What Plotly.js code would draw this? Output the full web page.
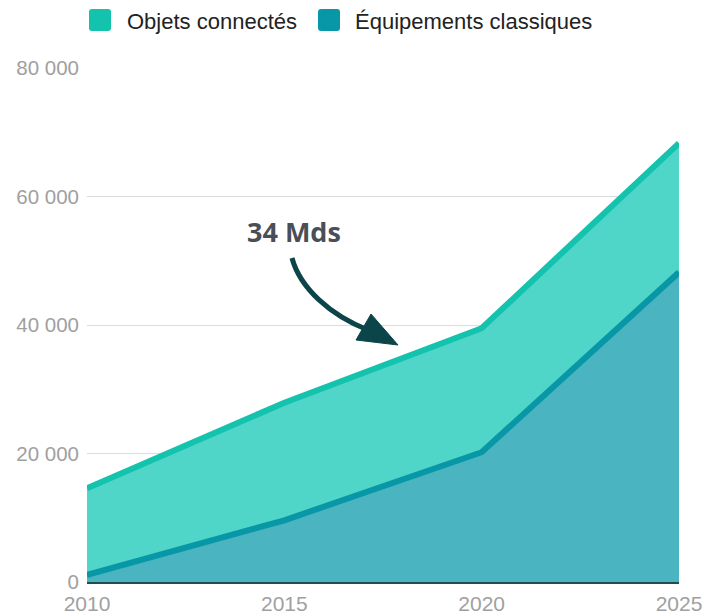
<!DOCTYPE html>
<html>
<head>
<meta charset="utf-8">
<script src="https://cdn.plot.ly/plotly-3.0.1.min.js"></script>
<style>html,body{margin:0;padding:0;background:#fff;}#chart{width:705px;height:616px;}</style>
</head>
<body>
<div id="chart"></div>
<script>
// Data (values in millions of devices)
const years = [2010, 2015, 2020, 2025];
const objetsConnectes = [14600, 27900, 39500, 68300];      // upper line
const equipementsClassiques = [1100, 9600, 20200, 48200];  // lower line
const seriesNames = ['Objets connectés', 'Équipements classiques'];
const yTicks = [0, 20000, 40000, 60000, 80000];
const xTicks = [2010, 2015, 2020, 2025];
const annotationText = '34 Mds';

// Layout geometry (pixels)
const W = 705, H = 616;
const L = 87, R = 679, T = 68, B = 582;
const px = x => (x - L) / (R - L);
const py = y => (B - y) / (B - T);

const cTop = '#13c3ad', cTopFill = '#4fd6c8';
const cBot = '#0897a6', cBotFill = '#4ab4c0';

const traces = [
  {
    x: years, y: equipementsClassiques, name: seriesNames[1],
    type: 'scatter', mode: 'lines', fill: 'tozeroy',
    fillcolor: cBotFill, line: {color: cBot, width: 6}, showlegend: false,
    hoverinfo: 'x+y'
  },
  {
    x: years, y: objetsConnectes, name: seriesNames[0],
    type: 'scatter', mode: 'lines', fill: 'tonexty',
    fillcolor: cTopFill, line: {color: cTop, width: 6}, showlegend: false,
    hoverinfo: 'x+y'
  }
];

const P = (x, y) => px(x) + ',' + py(y);
function roundRect(x0, y0, x1, y1, r) {
  return 'M' + P(x0 + r, y0) + ' L' + P(x1 - r, y0) + ' Q' + P(x1, y0) + ' ' + P(x1, y0 + r) +
    ' L' + P(x1, y1 - r) + ' Q' + P(x1, y1) + ' ' + P(x1 - r, y1) +
    ' L' + P(x0 + r, y1) + ' Q' + P(x0, y1) + ' ' + P(x0, y1 - r) +
    ' L' + P(x0, y0 + r) + ' Q' + P(x0, y0) + ' ' + P(x0 + r, y0) + ' Z';
}

const shapes = [
  {type: 'path', xref: 'paper', yref: 'paper', path: roundRect(89, 9, 111, 31, 3),
   fillcolor: cTop, line: {width: 0}},
  {type: 'path', xref: 'paper', yref: 'paper', path: roundRect(318, 9, 340, 31, 3),
   fillcolor: cBot, line: {width: 0}},
  // curved arrow shaft
  {type: 'path', xref: 'paper', yref: 'paper',
   path: 'M' + P(292, 258) + ' C' + P(300, 288) + ' ' + P(330, 315) + ' ' + P(368, 330),
   line: {color: '#0b4449', width: 5}},
  // arrow head
  {type: 'path', xref: 'paper', yref: 'paper',
   path: 'M' + P(398, 345) + ' L' + P(356, 340) + ' L' + P(371, 314) + ' Z',
   fillcolor: '#0b4449', line: {color: '#0b4449', width: 1}}
];

const annotations = [
  {xref: 'paper', yref: 'paper', x: px(125), y: py(21), xanchor: 'left', yanchor: 'middle',
   text: seriesNames[0], showarrow: false, font: {family: 'Liberation Sans, Arial', size: 22, color: '#222'}},
  {xref: 'paper', yref: 'paper', x: px(353), y: py(21), xanchor: 'left', yanchor: 'middle',
   text: seriesNames[1], showarrow: false, font: {family: 'Liberation Sans, Arial', size: 22, color: '#222'}},
  {xref: 'paper', yref: 'paper', x: px(294), y: py(231), xanchor: 'center', yanchor: 'middle',
   text: '<b>' + annotationText + '</b>', showarrow: false,
   font: {family: 'Open Sans, Lato', size: 27, color: '#4a4f57'}}
];

const layout = {
  width: W, height: H,
  margin: {l: L, r: W - R, t: T, b: H - B, pad: 0},
  paper_bgcolor: '#fff', plot_bgcolor: '#fff',
  separators: ', ',
  showlegend: false,
  xaxis: {
    range: [2010, 2025], tickvals: xTicks, ticktext: xTicks.map(String),
    showgrid: false, zeroline: false, showline: true, linecolor: '#1f4d50', linewidth: 1.5,
    ticks: '', ticklabelstandoff: 2,
    tickfont: {family: 'Liberation Sans, Arial', size: 21, color: '#a0a0a0'},
    automargin: false, fixedrange: true
  },
  yaxis: {
    range: [0, 80000], tickvals: yTicks, tickformat: ',d',
    showgrid: true, gridcolor: '#dcdcdc', gridwidth: 1, zeroline: false, showline: false,
    ticks: '', ticklabelstandoff: 7,
    tickfont: {family: 'Liberation Sans, Arial', size: 20.5, color: '#a0a0a0'},
    automargin: false, fixedrange: true
  },
  shapes: shapes,
  annotations: annotations
};

Plotly.newPlot('chart', traces, layout, {displayModeBar: false, staticPlot: true});
</script>
</body>
</html>
